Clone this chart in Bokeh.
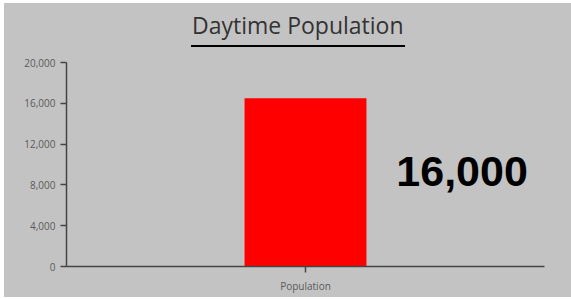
from bokeh.plotting import figure
from bokeh.models import (Div, Label, FactorRange, Range1d, FixedTicker,
                          NumeralTickFormatter)
from bokeh.layouts import column
from bokeh.embed import file_html
from bokeh.resources import INLINE

# ---- data ----
title_text = "Daytime Population"
categories = ["Population"]
values = [16500]
y_ticks = [0, 4000, 8000, 12000, 16000, 20000]
big_label = "16,000"

BG = "#c3c3c3"

title_html = (
    '<div style="padding-top:9px; padding-left:187px; margin:0;">'
    '<span style="display:inline-block; font-family:\'Open Sans\'; font-size:23px; '
    'line-height:27px; color:#333333; padding:0 1px 6px 1px; '
    'border-bottom:2.5px solid #000000;">' + title_text + '</span></div>'
)
div = Div(text=title_html, width=567, height=46,
          styles={"background-color": BG, "margin": "0", "padding": "0"})

p = figure(x_range=FactorRange(factors=categories, range_padding=0),
           y_range=Range1d(0, y_ticks[-1]),
           width=567, height=248, output_backend="svg", toolbar_location=None,
           min_border_left=62, min_border_right=27, min_border_top=13,
           min_border_bottom=31, styles={"background-color": BG})
p.background_fill_color = BG
p.border_fill_color = BG
p.outline_line_color = None
p.xgrid.grid_line_color = None
p.ygrid.grid_line_color = None

p.vbar(x=categories, top=values, width=0.255, color="#ff0000", line_color=None)

for ax in (p.xaxis[0], p.yaxis[0]):
    ax.axis_line_color = "#444444"
    ax.axis_line_width = 1.5
    ax.major_tick_line_color = "#444444"
    ax.major_tick_line_width = 1.5
    ax.major_tick_out = 6
    ax.major_tick_in = 0
    ax.minor_tick_line_color = None
    ax.major_label_text_font = "Open Sans"
    ax.major_label_text_font_size = "10px"
    ax.major_label_text_color = "#5a5a5a"

p.yaxis[0].ticker = FixedTicker(ticks=y_ticks)
p.yaxis[0].formatter = NumeralTickFormatter(format="0,0")
p.yaxis[0].major_label_standoff = 5
p.xaxis[0].major_label_standoff = 6

lab = Label(x=0.69, y=9300, text=big_label, text_font="Liberation Sans",
            text_font_style="bold", text_font_size="43px", text_color="#000000",
            text_baseline="alphabetic", text_align="left")
p.add_layout(lab)

layout = column(div, p, spacing=0, margin=(3, 0, 0, 4),
                styles={"background-color": BG})
open("out.html", "w").write(file_html(layout, INLINE))
